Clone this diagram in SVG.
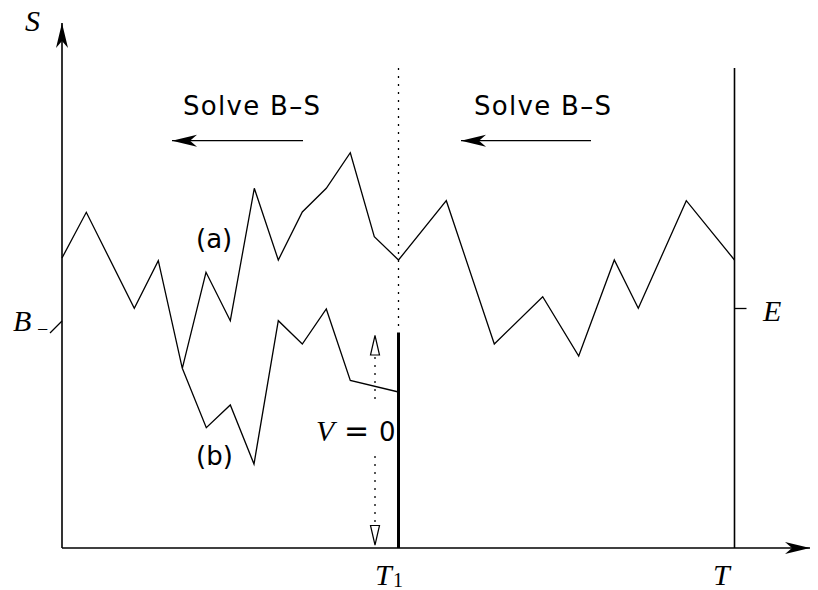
<svg xmlns="http://www.w3.org/2000/svg" width="818" height="590" viewBox="0 0 818 590">
<style>
.ln{fill:none;stroke:#000;stroke-width:1.3;stroke-linejoin:miter}
.ax{fill:none;stroke:#000;stroke-width:1.6}
.dot{fill:none;stroke:#000;stroke-width:1.3;stroke-dasharray:2 6}
.sans{font-family:"DejaVu Sans","Liberation Sans",sans-serif;font-size:26px;fill:#000}
.math{font-family:"Liberation Serif","DejaVu Serif",serif;font-style:italic;font-size:30px;fill:#000}
.rm{font-family:"Liberation Serif","DejaVu Serif",serif;font-size:20px;fill:#000}
.eq{font-family:"DejaVu Sans","Liberation Sans",sans-serif;font-size:26px;fill:#000}
</style>
<defs>
<marker id="arr" viewBox="-26 -7 27 14" refX="0" refY="0" markerWidth="27" markerHeight="14" markerUnits="userSpaceOnUse" orient="auto">
<path d="M0,0 L-25,-6 L-18,0 L-25,6 Z" fill="#000"/>
</marker>
</defs>
<g id="axes">
<line class="ax" x1="62" y1="548" x2="62" y2="23" marker-end="url(#arr)"/>
<line class="ax" x1="62" y1="548" x2="810" y2="548" marker-end="url(#arr)"/>
<line class="ax" x1="734.5" y1="68" x2="734.5" y2="548"/>
<line class="ln" x1="734.5" y1="308.5" x2="746.5" y2="308.5"/>
<line class="ln" x1="50" y1="333" x2="62" y2="321"/>
</g>
<g id="paths">
<polyline id="path-a" class="ln" points="62,258 86.3,212.3 134.3,308.3 158.3,260.7 182.3,368.3 206,272.3 230.3,320.7 254.3,188.3 278.3,260 302.3,212 326.3,188.3 350.3,152.7 374.3,236.7 398.5,260 446.3,200.7 494.3,344 542.7,296.7 578.7,356 614.3,260 638.3,308.3 686.3,200.7 734.5,260"/>
<polyline id="path-b" class="ln" points="182.3,368.3 206.3,427.7 230.3,405 254,464 278.3,320.7 302.3,344 326.3,309 350.3,380.5 398.5,392"/>
</g>
<g id="barrier">
<line class="dot" x1="398.5" y1="68" x2="398.5" y2="332"/>
<line x1="398.5" y1="332.5" x2="398.5" y2="548" stroke="#000" stroke-width="3"/>
<line class="dot" x1="375" y1="357" x2="375" y2="404"/>
<line class="dot" x1="375" y1="456" x2="375" y2="525"/>
<path d="M375,335.5 L370.5,355 L379.5,355 Z" fill="#fff" stroke="#000" stroke-width="1.2"/>
<path d="M375,545 L370.5,525.5 L379.5,525.5 Z" fill="#fff" stroke="#000" stroke-width="1.2"/>
</g>
<g id="connectors">
<line class="ln" x1="303" y1="140.7" x2="172" y2="140.7" marker-end="url(#arr)"/>
<line class="ln" x1="591" y1="140.7" x2="461" y2="140.7" marker-end="url(#arr)"/>
</g>
<g id="labels">
<text class="sans" x="183" y="115" textLength="137" lengthAdjust="spacing">Solve B–S</text>
<text class="sans" x="474" y="115" textLength="137" lengthAdjust="spacing">Solve B–S</text>
<text class="sans" x="196" y="248">(a)</text>
<text class="sans" x="196" y="465">(b)</text>
<text class="math" x="25" y="31">S</text>
<text class="math" x="13" y="331">B</text>
<text class="rm" x="37" y="336">−</text>
<text class="math" x="763" y="321">E</text>
<text class="math" x="375" y="585">T</text>
<text class="rm" x="393" y="587" font-size="18">1</text>
<text class="math" x="713" y="585">T</text>
<text y="441"><tspan class="math" x="316">V</tspan><tspan class="eq" x="344" style="font-size:30px">=</tspan><tspan class="eq" x="379">0</tspan></text>
</g>
</svg>
